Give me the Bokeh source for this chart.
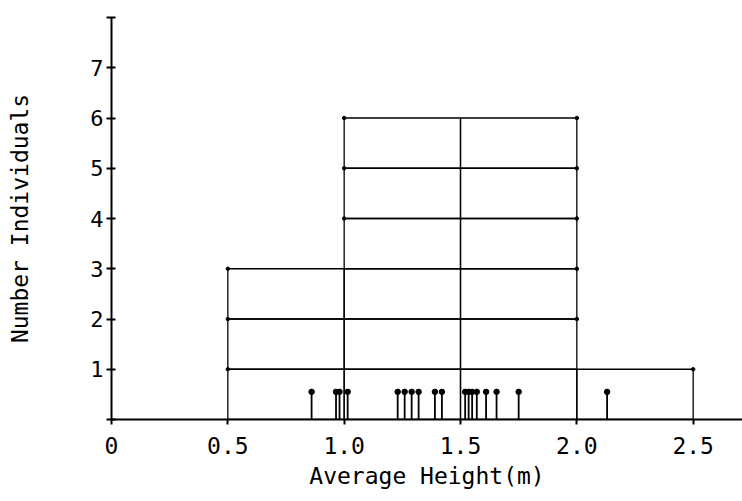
from bokeh.plotting import figure
from bokeh.models import FixedTicker, Range1d
from bokeh.embed import file_html
from bokeh.resources import INLINE

# ---- data ----
bin_edges = [0.5, 1.0, 1.5, 2.0, 2.5]
bin_counts = [3, 6, 6, 1]
heights = [0.86, 0.965, 0.98, 1.015, 1.23, 1.26, 1.29, 1.32, 1.39, 1.42,
           1.52, 1.535, 1.55, 1.57, 1.61, 1.655, 1.75, 2.13]
rug_height = 0.55
x_ticks = [0, 0.5, 1.0, 1.5, 2.0, 2.5]
x_tick_labels = ["0", "0.5", "1.0", "1.5", "2.0", "2.5"]
y_ticks = [0, 1, 2, 3, 4, 5, 6, 7, 8]
y_tick_labels = ["", "1", "2", "3", "4", "5", "6", "7", ""]

FONT = "DejaVu Sans Mono"

p = figure(width=742, height=501, output_backend="svg", toolbar_location=None,
           x_range=Range1d(0, 2.712), y_range=Range1d(0, 8),
           min_border_left=111, min_border_right=0, min_border_top=17,
           min_border_bottom=82)
p.outline_line_color = None
p.grid.visible = False
p.background_fill_color = "white"
p.border_fill_color = "white"

# histogram built as stacked unit cells
left, right, bottom, top = [], [], [], []
for i, c in enumerate(bin_counts):
    for k in range(c):
        left.append(bin_edges[i]); right.append(bin_edges[i + 1])
        bottom.append(k); top.append(k + 1)
p.quad(left=left, right=right, bottom=bottom, top=top,
       fill_color=None, line_color="black", line_width=1.3)

# corner marks on the histogram outline
cx, cy = [], []
for i, c in enumerate(bin_counts):
    prev_c = bin_counts[i - 1] if i > 0 else 0
    next_c = bin_counts[i + 1] if i + 1 < len(bin_counts) else 0
    for k in range(1, c + 1):
        if k > prev_c:
            cx.append(bin_edges[i]); cy.append(k)
        if k > next_c:
            cx.append(bin_edges[i + 1]); cy.append(k)
p.scatter(cx, cy, size=3.5, color="black")

# rug of individual heights (lollipops)
p.segment(x0=heights, y0=[0] * len(heights), x1=heights,
          y1=[rug_height] * len(heights), line_color="black", line_width=1.8)
p.scatter(heights, [rug_height] * len(heights), size=5.5, color="black")

# axes
xa = p.xaxis[0]
xa.ticker = FixedTicker(ticks=x_ticks)
xa.major_label_overrides = {t: l for t, l in zip(x_ticks, x_tick_labels)}
xa.minor_tick_line_color = None
xa.major_tick_out = 5
xa.major_tick_in = 0
xa.axis_line_width = 2
xa.major_tick_line_width = 2
xa.major_label_text_font = FONT
xa.major_label_text_font_size = "23px"
xa.major_label_text_color = "black"
xa.major_label_standoff = 12
xa.axis_label = "Average Height(m)"
xa.axis_label_text_font = FONT
xa.axis_label_text_font_size = "23px"
xa.axis_label_text_font_style = "normal"
xa.axis_label_text_color = "black"
xa.axis_label_standoff = 6

ya = p.yaxis[0]
ya.ticker = FixedTicker(ticks=y_ticks)
ya.major_label_overrides = {t: l for t, l in zip(y_ticks, y_tick_labels)}
ya.minor_tick_line_color = None
ya.major_tick_out = 5
ya.major_tick_in = 4
ya.axis_line_width = 2
ya.major_tick_line_width = 2
ya.major_label_text_font = FONT
ya.major_label_text_font_size = "22px"
ya.major_label_text_color = "black"
ya.major_label_standoff = 3
ya.axis_label = "Number Individuals"
ya.axis_label_text_font = FONT
ya.axis_label_text_font_size = "23px"
ya.axis_label_text_font_style = "normal"
ya.axis_label_text_color = "black"
ya.axis_label_standoff = 54

open("out.html", "w").write(file_html(p, INLINE))
